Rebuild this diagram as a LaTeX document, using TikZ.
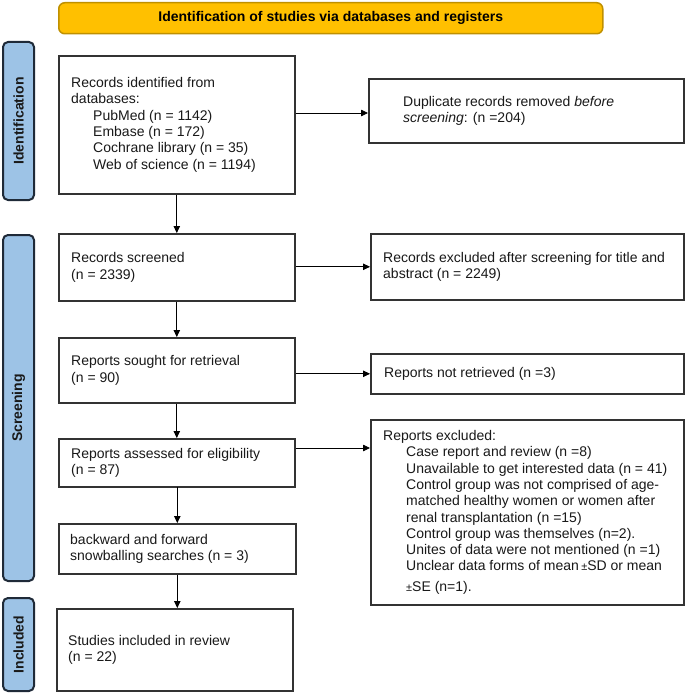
\documentclass[tikz,border=0pt]{standalone}
\usepackage{fontspec}
\setmainfont{Liberation Sans}
\usetikzlibrary{arrows.meta,calc}
\definecolor{bannerfill}{HTML}{FFC000}
\definecolor{bannerdraw}{HTML}{BF9000}
\definecolor{barfill}{HTML}{9DC3E6}
\definecolor{bardraw}{HTML}{1F2A38}
\definecolor{boxdraw}{HTML}{333333}
\newcommand{\smpm}{{\fontsize{11pt}{11pt}\selectfont ±}}
\begin{document}
\begin{tikzpicture}[x=1pt,y=-1pt,
  txt/.style={font=\fontsize{14pt}{16.3pt}\selectfont, align=left, inner sep=0pt, anchor=west, text=black!90},
  frame/.style={draw=boxdraw, line width=1.6pt, fill=white, inner sep=0pt, anchor=north west},
  bar/.style={draw=bardraw, fill=barfill, line width=2pt, rounded corners=5pt, inner sep=0pt, anchor=north west, minimum width=31pt},
  barlabel/.style={rotate=90, font=\bfseries\fontsize{14pt}{16pt}\selectfont, text=black!90},
  flow/.style={-{Triangle[length=7pt,width=6.5pt]}, line width=0.8pt, draw=black},
]
\useasboundingbox (0,0) rectangle (685,693);

% banner
\node[draw=bannerdraw, fill=bannerfill, line width=1.5pt, rounded corners=6pt, anchor=north west,
      minimum width=544pt, minimum height=31pt, inner sep=0pt,
      font=\bfseries\fontsize{14pt}{16pt}\selectfont] (title) at (58,2)
      {Identification of studies via databases and registers};

% side bars
\node[bar, minimum height=158pt] (idbar) at (2,41) {};
\node[barlabel] (idlab) at (idbar.center) {Identification};
\node[bar, minimum height=346pt] (scbar) at (2,234) {};
\node[barlabel] (sclab) at (scbar.center) {Screening};
\node[bar, minimum height=93pt] (inbar) at (2,597) {};
\node[barlabel] (inlab) at (inbar.center) {Included};

% main column boxes
\node[frame, minimum width=236pt, minimum height=138pt] (b1) at (58,55) {};
\node[frame, minimum width=236pt, minimum height=67pt] (b2) at (58,233) {};
\node[frame, minimum width=236pt, minimum height=65pt] (b3) at (58,337) {};
\node[frame, minimum width=236pt, minimum height=48pt] (b4) at (58,438) {};
\node[frame, minimum width=237pt, minimum height=50pt] (b5) at (58,523) {};
\node[frame, minimum width=236pt, minimum height=82pt] (b6) at (56,608) {};

% right column boxes
\node[frame, minimum width=315pt, minimum height=64pt] (d1) at (368,78) {};
\node[frame, minimum width=313pt, minimum height=66pt] (e2) at (370,233) {};
\node[frame, minimum width=313pt, minimum height=40pt] (e3) at (370,353) {};
\node[frame, minimum width=313pt, minimum height=185pt] (e4) at (370,419) {};

% texts
\node[txt] (t1) at ($(b1.west)+(13,0)$) {Records identified from\\databases:\\
  \hspace*{22pt}PubMed (n = 1142)\\
  \hspace*{22pt}Embase (n = 172)\\
  \hspace*{22pt}Cochrane library (n = 35)\\
  \hspace*{22pt}Web of science (n = 1194)};
\node[txt] (td1) at ($(d1.west)+(35,0)$) {Duplicate records removed \textit{before}\\\textit{screening}: (n =204)};
\node[txt] (t2) at ($(b2.west)+(13,0)$) {Records screened\\(n = 2339)};
\node[txt] (te2) at ($(e2.west)+(13,0)$) {Records excluded after screening for title and\\abstract (n = 2249)};
\node[txt] (t3) at ($(b3.west)+(13,0)$) {Reports sought for retrieval\\(n = 90)};
\node[txt] (te3) at ($(e3.west)+(14,0)$) {Reports not retrieved (n =3)};
\node[txt] (t4) at ($(b4.west)+(13,0)$) {Reports assessed for eligibility\\(n = 87)};
\node[txt] (te4) at ($(e4.west)+(13,0)$) {Reports excluded:\\
  \hspace*{23pt}Case report and review (n =8)\\
  \hspace*{23pt}Unavailable to get interested data (n = 41)\\
  \hspace*{23pt}Control group was not comprised of age-\\
  \hspace*{23pt}matched healthy women or women after\\
  \hspace*{23pt}renal transplantation (n =15)\\
  \hspace*{23pt}Control group was themselves (n=2).\\
  \hspace*{23pt}Unites of data were not mentioned (n =1)\\
  \hspace*{23pt}Unclear data forms of mean\,\smpm SD or mean\\[4pt]
  \hspace*{23pt}\smpm SE (n=1).};
\node[txt] (t5) at ($(b5.west)+(12,0)$) {backward and forward\\snowballing searches (n = 3)};
\node[txt] (t6) at ($(b6.west)+(12,0)$) {Studies included in review\\(n = 22)};

% horizontal connectors
\coordinate (a1) at ($(b1.north east)+(0,58)$);
\draw[flow] (a1) -- (a1 -| d1.west);
\draw[flow] (b2.east |- e2.west) -- (e2.west);
\draw[flow] (b3.east |- e3.west) -- (e3.west);
\coordinate (a4) at ($(b4.north east)+(0,10)$);
\draw[flow] (a4) -- (a4 -| e4.west);

% vertical connectors
\draw[flow] (b1.south) -- (b2.north);
\draw[flow] (b2.south) -- (b3.north);
\draw[flow] (b3.south) -- (b4.north);
\draw[flow] (b4.south) -- (b5.south |- b4.south) -- (b5.north);
\draw[flow] (b5.south) -- (b5.south |- b6.north);
\end{tikzpicture}
\end{document}
